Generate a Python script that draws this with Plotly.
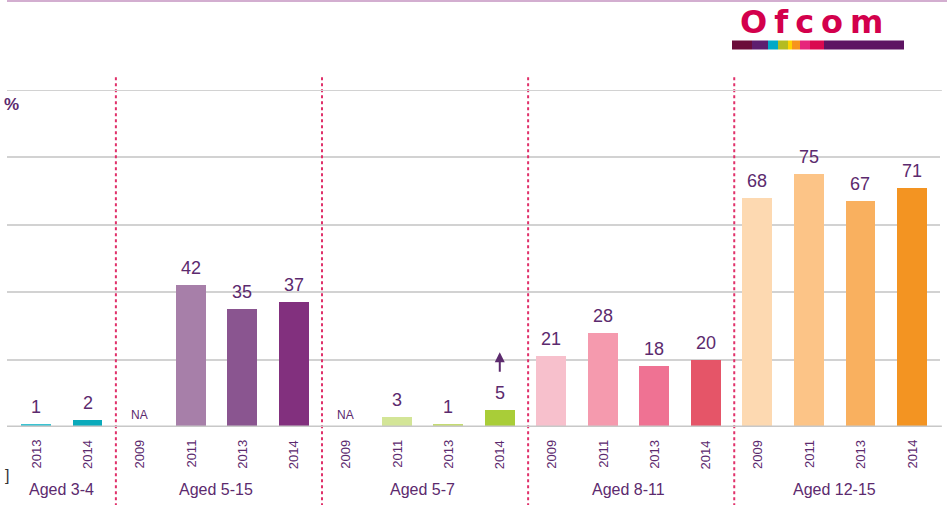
import plotly.graph_objects as go

# ---- data ----
groups = ["Aged 3-4", "Aged 5-15", "Aged 5-7", "Aged 8-11", "Aged 12-15"]
group_years = [
    ["2013", "2014"],
    ["2009", "2011", "2013", "2014"],
    ["2009", "2011", "2013", "2014"],
    ["2009", "2011", "2013", "2014"],
    ["2009", "2011", "2013", "2014"],
]
group_values = [
    [1, 2],
    [None, 42, 35, 37],
    [None, 3, 1, 5],
    [21, 28, 18, 20],
    [68, 75, 67, 71],
]
# bars flagged with an upward significance arrow: (group index, year)
sig_up = [(2, "2014")]

# ---- styles ----
group_colors = [
    ["#3cc3d2", "#0aaabb"],
    [None, "#a77fa9", "#8a5590", "#82307e"],
    [None, "#d3e597", "#c5db72", "#a9cd38"],
    ["#f7c0cc", "#f59aae", "#ef7293", "#e55568"],
    ["#fdd9b1", "#fcc487", "#f9b05f", "#f39422"],
]
TXT = "#5c2a6e"
FONT = "Arial, 'Liberation Sans', sans-serif"

# flatten
xs, ys, cols, ticks = [], [], [], []
idx = 0
group_ranges = []
for g, (yrs, vals, cs) in enumerate(zip(group_years, group_values, group_colors)):
    start = idx
    for yr, v, c in zip(yrs, vals, cs):
        xs.append(idx)
        ys.append(v)
        cols.append(c if c else "#ffffff")
        ticks.append(yr)
        idx += 1
    group_ranges.append((start, idx - 1))

fig = go.Figure()
fig.add_trace(go.Bar(
    x=xs, y=ys, width=0.58,
    marker=dict(color=cols, line=dict(width=0)),
    hoverinfo="skip", showlegend=False,
))

ann = []
shapes = []

# value labels / NA labels / year ticks
for x, v, yr in zip(xs, ys, ticks):
    if v is None:
        ann.append(dict(x=x, y=0, xref="x", yref="y", text="NA", showarrow=False,
                        yanchor="bottom", yshift=3, font=dict(size=12, color=TXT, family=FONT)))
    else:
        ann.append(dict(x=x, y=v, xref="x", yref="y", text=str(v), showarrow=False,
                        yanchor="bottom", yshift=5, font=dict(size=18, color=TXT, family=FONT)))
    ann.append(dict(x=x, y=0, xref="x", yref="y", text=yr, showarrow=False,
                    textangle=-90, yanchor="top", yshift=-11,
                    font=dict(size=13, color=TXT, family=FONT)))

# significance arrows
for g, yr in sig_up:
    s, e = group_ranges[g]
    for x in range(s, e + 1):
        if ticks[x] == yr:
            ann.append(dict(x=x, y=ys[x], xref="x", yref="y", text="", showarrow=True,
                            ax=0, ay=21, yshift=58, arrowhead=2, arrowsize=1,
                            arrowwidth=2, arrowcolor=TXT))

# group labels and separators
for g, (s, e) in enumerate(group_ranges):
    ann.append(dict(x=(s + e) / 2, y=0, xref="x", yref="y", text=groups[g], showarrow=False,
                    yanchor="middle", yshift=-62, font=dict(size=16, color=TXT, family=FONT)))
    if g < len(group_ranges) - 1:
        sx = e + 0.55
        shapes.append(dict(type="line", xref="x", yref="paper", x0=sx, x1=sx,
                           y0=-0.235, y1=1.045,
                           line=dict(color="#e0306a", width=2, dash="dot")))

# gridline at top of range
shapes.append(dict(type="line", xref="paper", yref="y", x0=0, x1=1.002, y0=100, y1=100,
                   line=dict(color="#d2d2d2", width=2)))
# baseline
shapes.append(dict(type="line", xref="paper", yref="y", x0=0, x1=1.002, y0=0, y1=0,
                   line=dict(color="#c8c8c8", width=3)))
# top border line
shapes.append(dict(type="line", xref="paper", yref="paper", x0=0, x1=1.01,
                   y0=1.264, y1=1.264, line=dict(color="#d3aed0", width=2)))

# % label
ann.append(dict(x=0, y=1, xref="paper", yref="paper", text="<b>%</b>", showarrow=False,
                xanchor="left", yanchor="top", xshift=-5, yshift=-3,
                font=dict(size=17, color=TXT, family=FONT)))
# small bracket bottom-left
ann.append(dict(x=0, y=0, xref="paper", yref="y", text="]", showarrow=False,
                xanchor="left", yanchor="middle", xshift=-4, yshift=-48,
                font=dict(size=16, color="#333333", family=FONT)))

# Ofcom logo (text + colour bar)
ann.append(dict(x=(815 - 7) / 933, y=(427 - 22) / 337, xref="paper", yref="paper",
                text='<b><span style="letter-spacing:7px">Ofcom</span></b>', showarrow=False,
                xanchor="center", yanchor="middle",
                font=dict(size=32, color="#d3004c", family="'DejaVu Sans', Arial, sans-serif")))
logo_bar = [(732, 752, "#6b0d3a"), (752, 768, "#5d1e6f"), (768, 778, "#00a9c8"),
            (778, 788, "#b4bc21"), (788, 792, "#ffd500"), (792, 800, "#f7941d"),
            (800, 810, "#e6257b"), (810, 824, "#da0a50"), (824, 904, "#5e1462")]
for x0, x1, c in logo_bar:
    shapes.append(dict(type="rect", xref="paper", yref="paper",
                       x0=(x0 - 7) / 933, x1=(x1 - 7) / 933,
                       y0=(427 - 49.5) / 337, y1=(427 - 40.5) / 337,
                       line=dict(width=0), fillcolor=c))

fig.update_layout(
    width=947, height=505, autosize=False,
    margin=dict(l=7, r=7, t=90, b=78, autoexpand=False),
    paper_bgcolor="white", plot_bgcolor="white",
    bargap=0,
    xaxis=dict(range=[-0.563, 17.543], showticklabels=False, showgrid=False,
               zeroline=False, fixedrange=True),
    yaxis=dict(range=[0, 100], dtick=20, showgrid=True, gridcolor="#d2d2d2",
               gridwidth=2, showticklabels=False, zeroline=False, fixedrange=True),
    annotations=ann, shapes=shapes,
    font=dict(family=FONT, color=TXT),
)

fig.write_html("out.html", config={"displayModeBar": False},
               post_script="document.body.style.margin='0';document.body.style.overflow='hidden';")
